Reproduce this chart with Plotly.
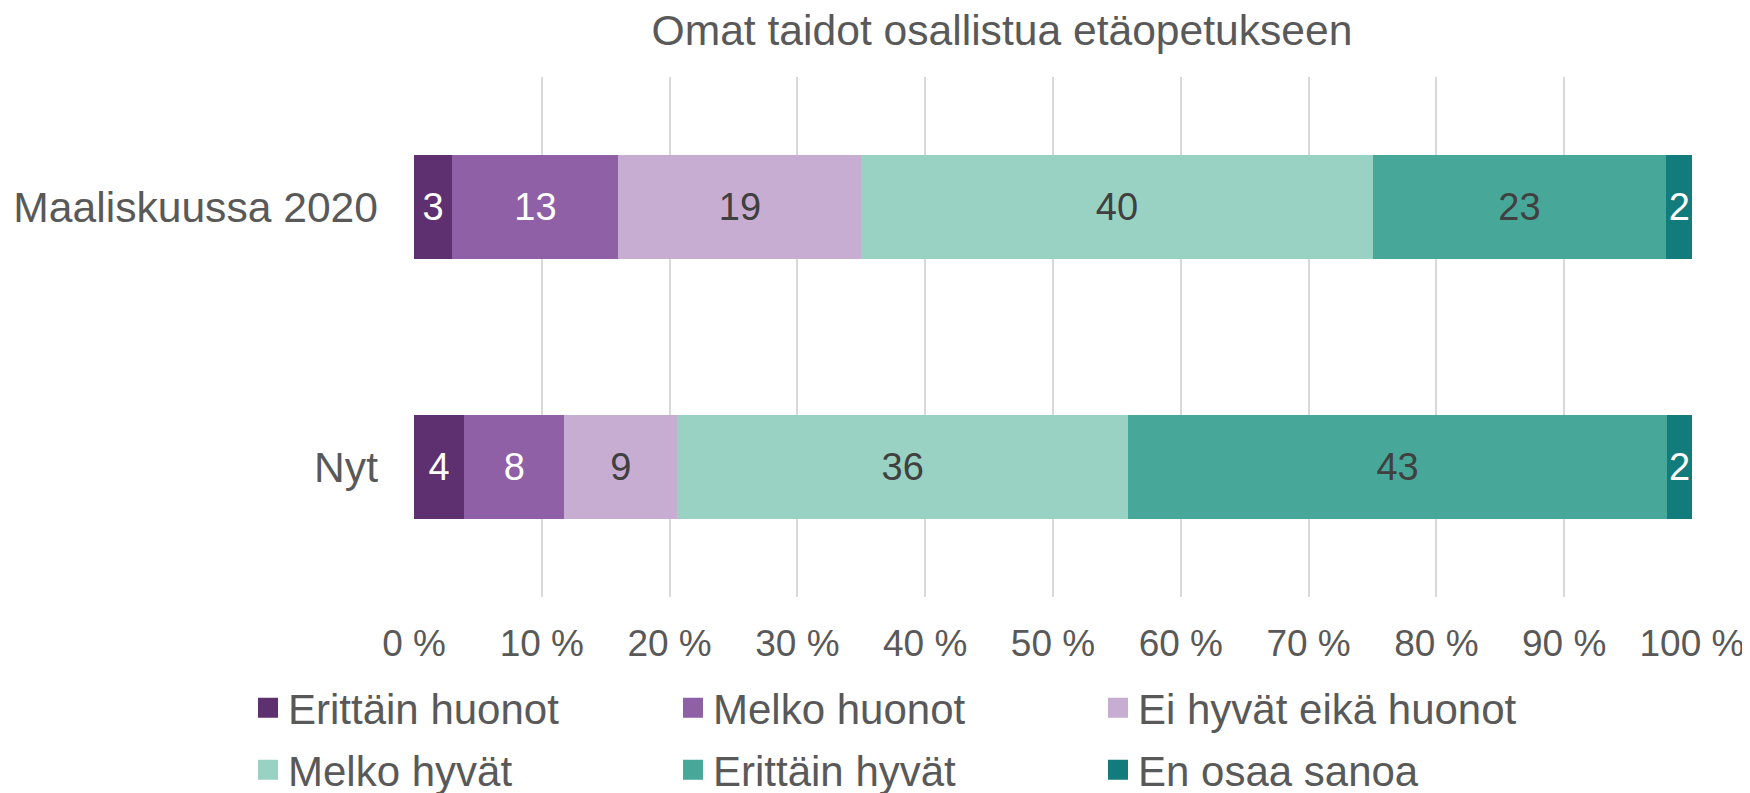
import plotly.graph_objects as go

categories = ["Maaliskuussa 2020", "Nyt"]
series_names = ["Erittäin huonot", "Melko huonot", "Ei hyvät eikä huonot",
                "Melko hyvät", "Erittäin hyvät", "En osaa sanoa"]
erittain_huonot = [3, 4]
melko_huonot = [13, 8]
ei_hyvat_eika_huonot = [19, 9]
melko_hyvat = [40, 36]
erittain_hyvat = [23, 43]
en_osaa_sanoa = [2, 2]
series_values = [erittain_huonot, melko_huonot, ei_hyvat_eika_huonot,
                 melko_hyvat, erittain_hyvat, en_osaa_sanoa]
x_ticks = [0, 10, 20, 30, 40, 50, 60, 70, 80, 90, 100]
x_tick_labels = [f"{v} %" for v in x_ticks]

colors = ["#5E3070", "#8F60A5", "#C8ADD3", "#99D1C2", "#47A89A", "#127C7C"]
label_colors = ["#FFFFFF", "#FFFFFF", "#404040", "#404040", "#404040", "#FFFFFF"]
FONT = "Liberation Sans, Arial, sans-serif"
GREY = "#595959"

# the page body has an 8px margin, so the figure is sized to fill the window
W, H = 1742, 785
ML, MR, MT, MB = 406, 58, 69, 196
PW, PH = W - ML - MR, H - MT - MB

fig = go.Figure()
for name, vals, col, lc in zip(series_names, series_values, colors, label_colors):
    fig.add_trace(go.Bar(
        y=categories, x=vals, name=name, orientation="h",
        marker=dict(color=col, line=dict(width=0)),
        text=vals, texttemplate="%{text}", textposition="inside",
        insidetextanchor="middle", textangle=0, constraintext="none",
        textfont=dict(family=FONT, size=38, color=lc),
        showlegend=False, hoverinfo="skip",
    ))

# legend entries (two rows, three columns)
for i, (name, col) in enumerate(zip(series_names, colors)):
    fig.add_trace(go.Scatter(
        x=[None], y=[None], mode="markers", name=name,
        marker=dict(symbol="square", size=16, color=col, line=dict(color=col, width=4)),
        legend="legend" if i < 3 else "legend2", showlegend=True,
    ))

leg_common = dict(orientation="h", xref="paper", yref="paper",
                  x=(240 - ML) / PW, xanchor="left", yanchor="middle",
                  entrywidth=380, entrywidthmode="pixels",
                  font=dict(family=FONT, size=42, color=GREY),
                  bgcolor="rgba(0,0,0,0)", borderwidth=0, traceorder="normal")

fig.update_layout(
    width=W, height=H,
    margin=dict(l=ML, r=MR, t=MT, b=MB, autoexpand=False),
    paper_bgcolor="white", plot_bgcolor="white",
    barmode="stack", barnorm="percent", bargap=0.6,
    title=dict(text="Omat taidot osallistua etäopetukseen",
               font=dict(family=FONT, size=42.6, color=GREY),
               x=994 / W, xanchor="center", xref="container",
               y=1 - 22 / H, yanchor="middle", yref="container"),
    xaxis=dict(range=[0, 100], tickmode="array", tickvals=x_ticks, ticktext=x_tick_labels,
               showgrid=True, gridcolor="#D9D9D9", gridwidth=1.5,
               zeroline=False, showline=False, automargin=False,
               ticks="outside", ticklen=14, tickcolor="rgba(0,0,0,0)",
               tickfont=dict(family=FONT, size=37, color=GREY), fixedrange=True),
    yaxis=dict(type="category", categoryorder="array", categoryarray=categories,
               range=[1.5, -0.5], showgrid=False, zeroline=False, showline=False,
               ticks="", ticklabelstandoff=35, automargin=False,
               tickfont=dict(family=FONT, size=42.6, color=GREY), fixedrange=True),
    legend=dict(y=(MT + PH - 700) / PH, **leg_common),
    legend2=dict(y=(MT + PH - 762) / PH, **leg_common),
    showlegend=True,
)

fig.write_html("out.html")
